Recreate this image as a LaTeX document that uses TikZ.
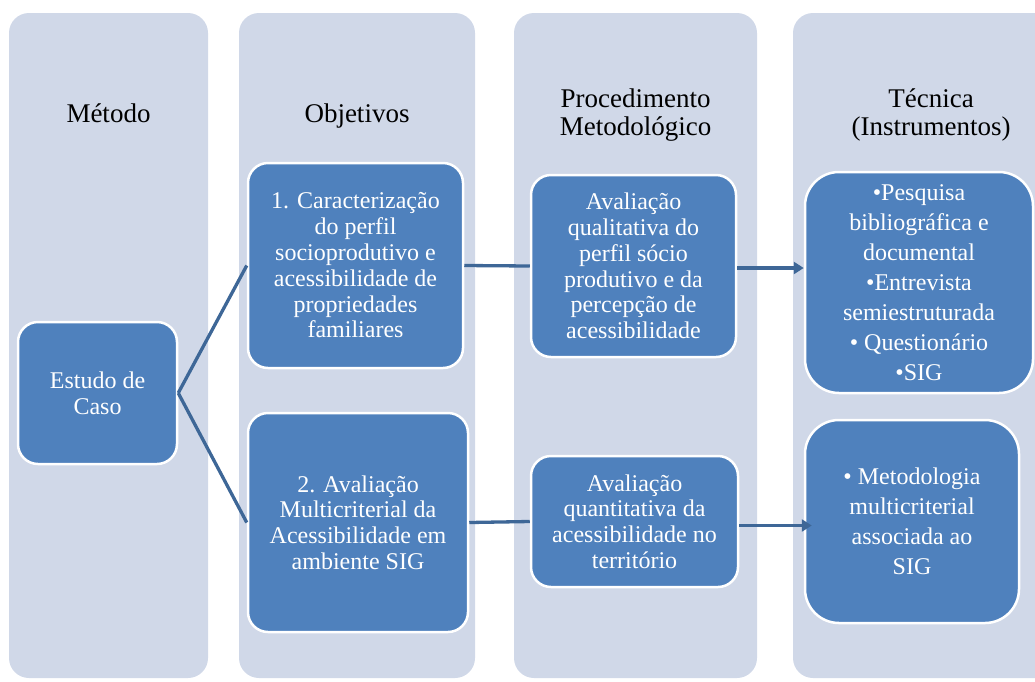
\documentclass[tikz,border=0pt]{standalone}
\usepackage{fontspec}
\setmainfont{Liberation Serif}
\usetikzlibrary{arrows.meta}
\definecolor{colbg}{HTML}{D0D8E8}
\definecolor{boxfill}{HTML}{4F81BD}
\definecolor{linkc}{HTML}{3E6797}
\tikzset{
  column/.style={fill=colbg, draw=none, rounded corners=20pt},
  header/.style={align=center, font=\fontsize{27}{27.5}\selectfont, text=black, inner sep=0pt},
  blk/.style={draw=white, line width=2.5pt, fill=boxfill, text=white, align=center,
    rounded corners=20pt, inner sep=0pt, font=\fontsize{24}{25.8}\selectfont},
  link/.style={draw=linkc, line width=3.3pt},
  arr/.style={link, -{Triangle[length=10pt,width=12pt]}}
}
\begin{document}
\begin{tikzpicture}[x=1pt,y=-1pt]
\useasboundingbox (0,0) rectangle (1035,681);
\clip (0,0) rectangle (1035,681);
% columns
\fill[column] (9,13) rectangle (208,678);
\fill[column] (239,13) rectangle (475,678);
\fill[column] (514,13) rectangle (757,678);
\fill[column] (793,13) rectangle (1075,678);
% headers
\node[header, anchor=base] (h1) at (108.5,122) {Método};
\node[header, anchor=base] (h2) at (357,122) {Objetivos};
\node[header] (h3) at (635.5,115) {Procedimento\\Metodológico};
\node[header] (h4) at (931,115) {Técnica\\(Instrumentos)};
% boxes
\node[blk, minimum width=159pt, minimum height=142pt] (e) at (97.5,393) {Estudo de\\Caso};
\node[blk, minimum width=215pt, minimum height=205pt] (o1) at (355.5,265.5)
  {1. Caracterização\\do perfil\\socioprodutivo e\\acessibilidade de\\propriedades\\familiares};
\node[blk, minimum width=220pt, minimum height=219pt] (o2) at (358,522.5)
  {2. Avaliação\\Multicriterial da\\Acessibilidade em\\ambiente SIG};
\node[blk, minimum width=205pt, minimum height=182pt] (p1) at (633.5,266)
  {Avaliação\\qualitativa do\\perfil sócio\\produtivo e da\\percepção de\\acessibilidade};
\node[blk, minimum width=207pt, minimum height=131pt] (p2) at (634.5,521.5)
  {Avaliação\\quantitativa da\\acessibilidade no\\território};
\node[blk, rounded corners=34pt, minimum width=228pt, minimum height=221pt,
  font=\fontsize{24}{30}\selectfont] (t1) at (919,282.5)
  {•Pesquisa\\bibliográfica e\\documental\\•Entrevista\\semiestruturada\\• Questionário\\•SIG};
\node[blk, rounded corners=34pt, minimum width=214pt, minimum height=203pt,
  font=\fontsize{24}{30}\selectfont] (t2) at (912,521.5)
  {• Metodologia\\multicriterial\\associada ao\\SIG};
% connectors
\draw[link] (e.east) -- (o1.west);
\draw[link] (e.east) -- (o2.west);
\draw[link] (o1.east) -- (p1.west);
\draw[link] (o2.east) -- (p2.west);
\draw[arr] ([yshift=-2pt]p1.east) -- ([yshift=-2pt]p1.east -| t1.west);
\draw[arr] ([yshift=-4pt]p2.east) -- ([yshift=-4pt,xshift=8pt]p2.east -| t2.west);
\end{tikzpicture}
\end{document}
